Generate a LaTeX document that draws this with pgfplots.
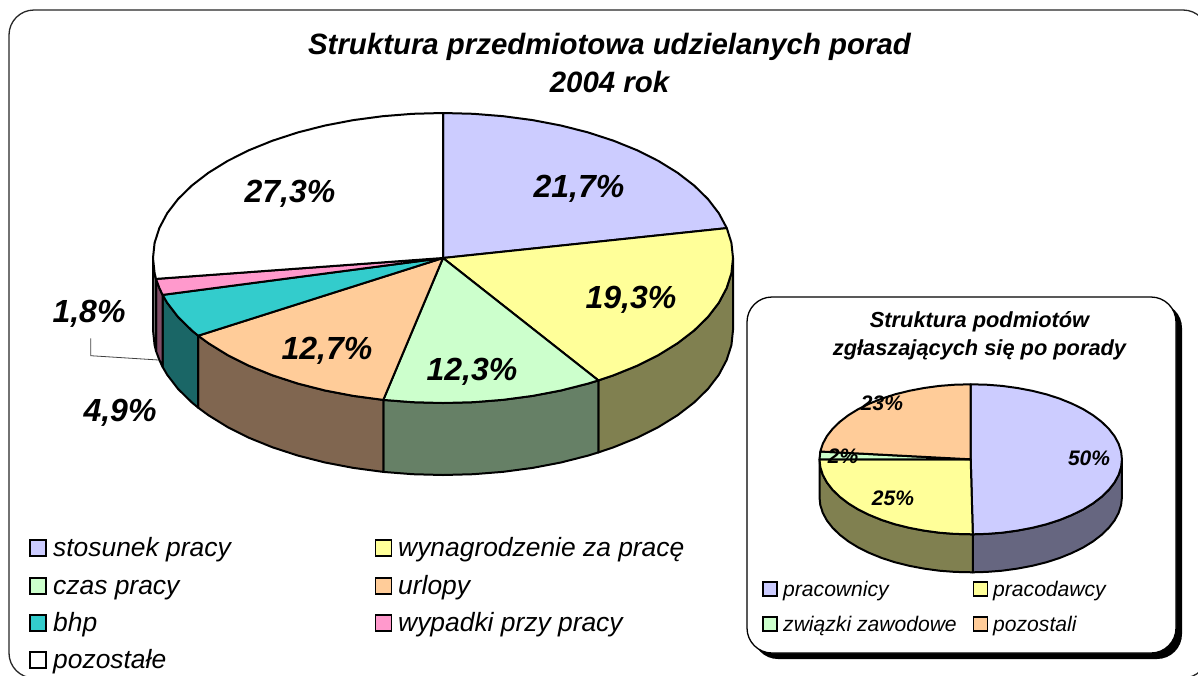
\documentclass[border=0pt]{standalone}
\usepackage{fontspec}
\setmainfont{Liberation Sans}
\usepackage{pgfplots}
\pgfplotsset{compat=1.18}
\definecolor{cA}{HTML}{CCCCFF}
\definecolor{cB}{HTML}{FFFF99}
\definecolor{cC}{HTML}{CCFFCC}
\definecolor{cD}{HTML}{FFCC99}
\definecolor{cE}{HTML}{33CCCC}
\definecolor{cF}{HTML}{FF99CC}
\definecolor{sA}{HTML}{666680}
\definecolor{sB}{HTML}{808050}
\definecolor{sC}{HTML}{668066}
\definecolor{sD}{HTML}{806650}
\definecolor{sE}{HTML}{1A6666}
\definecolor{sF}{HTML}{804D66}
\pgfplotsset{
  wedge/.style={draw=black,line width=2pt,line join=round,mark=none,forget plot},
  key/.style={only marks,mark=square*,mark size=#1,forget plot},
}
\newcommand{\T}[4]{\node[anchor=base,inner sep=0pt,font=\bfseries\itshape\fontsize{#3}{#3}\selectfont] at (axis cs:#1,#2) {#4};}
\newcommand{\Lg}[4]{\node[anchor=base west,inner sep=0pt,font=\itshape\fontsize{#3}{#3}\selectfont] at (axis cs:#1,#2) {#4};}
\begin{document}
\begin{tikzpicture}
\useasboundingbox (0,0) rectangle (1198pt,675pt);
\begin{axis}[scale only axis,width=1198pt,height=675pt,at={(0,0)},anchor=south west,
  xmin=0,xmax=1198,ymin=0,ymax=675,y dir=reverse,hide axis]
% frame
\draw[black!85,line width=1.3pt,rounded corners=25pt] (axis cs:9,10) rectangle (axis cs:1208,678);
% big pie sides
\addplot[wedge,fill=sB] coordinates {(733,258)(731.4,273.2)(726.6,288.1)(718.8,302.8)(707.9,317)(694.1,330.5)(677.6,343.2)(658.5,355)(637,365.8)(613.5,375.3)(598.4,380.4)(598.4,452.4)(613.5,447.3)(637,437.8)(658.5,427)(677.6,415.2)(694.1,402.5)(707.9,389)(718.8,374.8)(726.6,360.1)(731.4,345.2)(733,330)} --cycle;
\addplot[wedge,fill=sC] coordinates {(598.4,380.4)(588,383.6)(560.9,390.5)(532.6,395.9)(503.3,399.8)(473.3,402.2)(443,403)(412.7,402.2)(383.3,399.9)(383.3,471.9)(412.7,474.2)(443,475)(473.3,474.2)(503.3,471.8)(532.6,467.9)(560.9,462.5)(588,455.6)(598.4,452.4)} --cycle;
\addplot[wedge,fill=sD] coordinates {(383.3,399.9)(353.4,395.9)(325.1,390.5)(298,383.6)(272.5,375.3)(249,365.8)(227.5,355)(208.4,343.2)(198.2,335.7)(198.2,407.7)(208.4,415.2)(227.5,427)(249,437.8)(272.5,447.3)(298,455.6)(325.1,462.5)(353.4,467.9)(383.3,471.9)} --cycle;
\addplot[wedge,fill=sE] coordinates {(198.2,335.7)(191.9,330.5)(178.1,317)(167.2,302.8)(162.6,294.9)(162.6,366.9)(167.2,374.8)(178.1,389)(191.9,402.5)(198.2,407.7)} --cycle;
\addplot[wedge,fill=sF] coordinates {(162.6,294.9)(159.4,288.1)(156,278.9)(156,350.9)(159.4,360.1)(162.6,366.9)} --cycle;
\addplot[wedge,fill=gray] coordinates {(156,278.9)(154.6,273.2)(153,258)(153,330)(154.6,345.2)(156,350.9)} --cycle;
% big pie top
\addplot[wedge,fill=cA] coordinates {(443,258)(443,113)(473.3,113.8)(503.3,116.2)(532.6,120.1)(560.9,125.5)(588,132.4)(613.5,140.7)(637,150.2)(658.5,161)(677.6,172.8)(694.1,185.5)(707.9,199)(718.8,213.2)(726.8,228.1)} --cycle;
\addplot[wedge,fill=cB] coordinates {(443,258)(726.8,228.1)(731.4,242.8)(733,258)(731.4,273.2)(726.6,288.1)(718.8,302.8)(707.9,317)(694.1,330.5)(677.6,343.2)(658.5,355)(637,365.8)(613.5,375.3)(598.4,380.4)} --cycle;
\addplot[wedge,fill=cC] coordinates {(443,258)(598.4,380.4)(588,383.6)(560.9,390.5)(532.6,395.9)(503.3,399.8)(473.3,402.2)(443,403)(412.7,402.2)(383.3,399.9)} --cycle;
\addplot[wedge,fill=cD] coordinates {(443,258)(383.3,399.9)(353.4,395.9)(325.1,390.5)(298,383.6)(272.5,375.3)(249,365.8)(227.5,355)(208.4,343.2)(198.2,335.7)} --cycle;
\addplot[wedge,fill=cE] coordinates {(443,258)(198.2,335.7)(191.9,330.5)(178.1,317)(167.2,302.8)(162.6,294.9)} --cycle;
\addplot[wedge,fill=cF] coordinates {(443,258)(162.6,294.9)(159.4,288.1)(156,278.9)} --cycle;
\addplot[wedge,fill=white] coordinates {(443,258)(156,278.9)(154.6,273.2)(153,258)(154.6,242.8)(159.4,227.9)(167.2,213.2)(178.1,199)(191.9,185.5)(208.4,172.8)(227.5,161)(249,150.2)(272.5,140.7)(298,132.4)(325.1,125.5)(353.4,120.1)(382.7,116.2)(412.7,113.8)(443,113)} --cycle;
% leader
\addplot[black!75,line width=0.8pt,mark=none,forget plot] coordinates {(90.7,338.3)(90.7,355.7)(158.5,360)};
% labels big
\T{609.5}{54}{29.4}{Struktura przedmiotowa udzielanych porad}
\T{609.5}{92}{29.4}{2004 rok}
\T{579}{197}{32}{21,7\%}
\T{631}{308}{32}{19,3\%}
\T{472}{380}{32}{12,3\%}
\T{327}{359}{32}{12,7\%}
\T{120}{421}{32}{4,9\%}
\T{89}{322}{32}{1,8\%}
\T{290}{202}{32}{27,3\%}
% big legend
\addplot[key=8,draw=black,fill=cA,line width=1.5pt] coordinates {(38,548)};
\addplot[key=8,draw=black,fill=cB,line width=1.5pt] coordinates {(383.5,548)};
\addplot[key=8,draw=black,fill=cC,line width=1.5pt] coordinates {(38,586)};
\addplot[key=8,draw=black,fill=cD,line width=1.5pt] coordinates {(383.5,586)};
\addplot[key=8,draw=black,fill=cE,line width=1.5pt] coordinates {(38,623)};
\addplot[key=8,draw=black,fill=cF,line width=1.5pt] coordinates {(383.5,623)};
\addplot[key=8,draw=black,fill=white,line width=1.5pt] coordinates {(38,660)};
\Lg{53}{556.5}{26.4}{stosunek pracy}
\Lg{398}{556.5}{26.4}{wynagrodzenie za pracę}
\Lg{53}{594.5}{26.4}{czas pracy}
\Lg{398}{594.5}{26.4}{urlopy}
\Lg{53}{631.5}{26.4}{bhp}
\Lg{398}{631.5}{26.4}{wypadki przy pracy}
\Lg{53}{668.5}{26.4}{pozostałe}
% inset
\fill[black,rounded corners=25pt] (axis cs:753,303) rectangle (axis cs:1182,659);
\draw[black,fill=white,line width=1.3pt,rounded corners=25pt] (axis cs:747,297) rectangle (axis cs:1176,653);
% small pie sides
\addplot[wedge,fill=sA] coordinates {(1121.9,459.3)(1121.1,467.1)(1118.6,474.9)(1114.5,482.5)(1108.8,489.8)(1101.6,496.8)(1093,503.4)(1083.1,509.5)(1071.9,515)(1059.6,520)(1046.3,524.3)(1032.2,527.8)(1017.4,530.6)(1002.1,532.7)(986.5,533.9)(972.8,534.3)(972.8,572.3)(986.5,571.9)(1002.1,570.7)(1017.4,568.6)(1032.2,565.8)(1046.3,562.3)(1059.6,558)(1071.9,553)(1083.1,547.5)(1093,541.4)(1101.6,534.8)(1108.8,527.8)(1114.5,520.5)(1118.6,512.9)(1121.1,505.1)(1121.9,497.3)} --cycle;
\addplot[wedge,fill=sB] coordinates {(972.8,534.3)(954.9,533.9)(939.3,532.7)(924,530.6)(909.2,527.8)(895.1,524.3)(881.8,520)(869.5,515)(858.3,509.5)(848.4,503.4)(839.8,496.8)(832.6,489.8)(826.9,482.5)(822.8,474.9)(820.3,467.1)(819.5,459.3)(819.5,497.3)(820.3,505.1)(822.8,512.9)(826.9,520.5)(832.6,527.8)(839.8,534.8)(848.4,541.4)(858.3,547.5)(869.5,553)(881.8,558)(895.1,562.3)(909.2,565.8)(924,568.6)(939.3,570.7)(954.9,571.9)(972.8,572.3)} --cycle;
% small pie top
\addplot[wedge,fill=cA] coordinates {(970.7,459.3)(970.7,384.3)(986.5,384.7)(1002.1,385.9)(1017.4,388)(1032.2,390.8)(1046.3,394.3)(1059.6,398.6)(1071.9,403.6)(1083.1,409.1)(1093,415.2)(1101.6,421.8)(1108.8,428.8)(1114.5,436.1)(1118.6,443.7)(1121.1,451.5)(1121.9,459.3)(1121.1,467.1)(1118.6,474.9)(1114.5,482.5)(1108.8,489.8)(1101.6,496.8)(1093,503.4)(1083.1,509.5)(1071.9,515)(1059.6,520)(1046.3,524.3)(1032.2,527.8)(1017.4,530.6)(1002.1,532.7)(986.5,533.9)(972.8,534.3)} --cycle;
\addplot[wedge,fill=cB] coordinates {(970.7,459.3)(972.8,534.3)(954.9,533.9)(939.3,532.7)(924,530.6)(909.2,527.8)(895.1,524.3)(881.8,520)(869.5,515)(858.3,509.5)(848.4,503.4)(839.8,496.8)(832.6,489.8)(826.9,482.5)(822.8,474.9)(820.3,467.1)(819.5,459.3)} --cycle;
\addplot[wedge,fill=cC] coordinates {(970.7,459.3)(819.5,459.3)(820.3,451.5)} --cycle;
\addplot[wedge,fill=cD] coordinates {(970.7,459.3)(820.3,451.5)(822.8,443.7)(826.9,436.1)(832.6,428.8)(839.8,421.8)(848.4,415.2)(858.3,409.1)(869.5,403.6)(881.8,398.6)(895.1,394.3)(909.2,390.8)(924,388)(939.3,385.9)(954.9,384.7)(970.7,384.3)} --cycle;
% small texts
\T{979.5}{327.5}{21.8}{Struktura podmiotów}
\T{979.5}{355.5}{21.8}{zgłaszających się po porady}
\T{1089}{465.5}{21}{50\%}
\T{893}{505.5}{21}{25\%}
\T{843}{463.5}{21}{2\%}
\T{882}{410.5}{21}{23\%}
\addplot[key=7,draw=black,fill=cA,line width=1.5pt] coordinates {(770,589)};
\addplot[key=7,draw=black,fill=cB,line width=1.5pt] coordinates {(980.7,589)};
\addplot[key=7,draw=black,fill=cC,line width=1.5pt] coordinates {(770,624)};
\addplot[key=7,draw=black,fill=cD,line width=1.5pt] coordinates {(980.7,624)};
\Lg{783}{596}{21.1}{pracownicy}
\Lg{993}{596}{21.1}{pracodawcy}
\Lg{783}{631}{21.1}{związki zawodowe}
\Lg{993}{631}{21.1}{pozostali}
\end{axis}
\end{tikzpicture}
\end{document}
